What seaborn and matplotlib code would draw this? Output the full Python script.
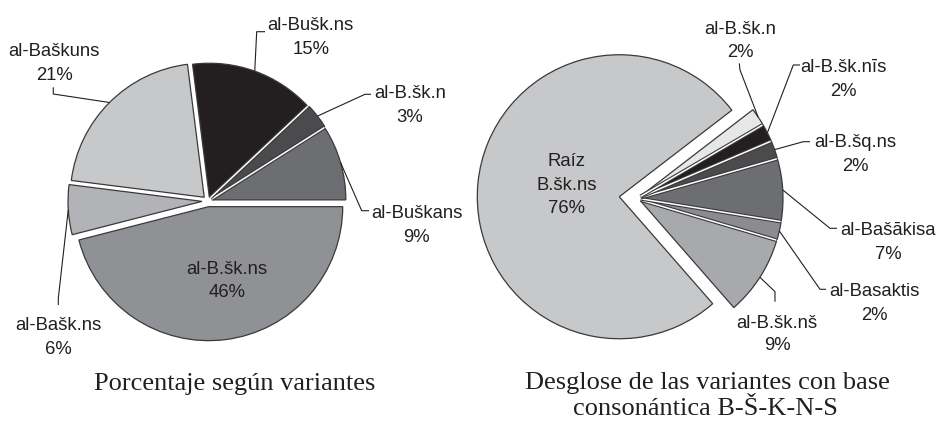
import numpy as np
import matplotlib
matplotlib.use("Agg")
import matplotlib.pyplot as plt
import matplotlib.patheffects as pe
import seaborn as sns

# ---------------- data ----------------
left_labels = ["al-Buškans", "al-B.šk.n", "al-Bušk.ns", "al-Baškuns", "al-Bašk.ns", "al-B.šk.ns"]
left_values = [9, 3, 15, 21, 6, 46]
left_colors = ["#6d6e71", "#4b4b4d", "#231f20", "#c7c8ca", "#b1b3b6", "#8f9194"]

right_labels = ["al-B.šk.nš", "al-Basaktis", "al-Bašākisa", "al-B.šq.ns", "al-B.šk.nīs", "al-B.šk.n", "Raíz\nB.šk.ns"]
right_values = [9, 2, 7, 2, 2, 2, 76]
right_colors = ["#a7a9ac", "#8a8c8f", "#6d6e71", "#4b4b4d", "#231f20", "#e6e7e8", "#c7c8ca"]

left_title = "Porcentaje según variantes"
right_title = ["Desglose de las variantes con base", "consonántica B-Š-K-N-S"]

# ---------------- style ----------------
sns.set_theme(style="white")
plt.rcParams["font.family"] = ["Liberation Sans", "DejaVu Sans"]
TXT = "#231f20"
EDGE = "#3a3a3a"

W, H = 938, 424
fig = plt.figure(figsize=(W / 100, H / 100), dpi=100)
fig.patch.set_facecolor("white")
ax = fig.add_axes([0, 0, 1, 1])


def Y(y):
    return H - y


wp = dict(edgecolor=EDGE, linewidth=0.9)
wl, _ = ax.pie(left_values, colors=left_colors, startangle=0, counterclock=True,
               explode=[4.0, 4.5, 4.0, 5.3, 6.0, 5.7],
               center=(208, Y(201)), radius=134, wedgeprops=wp)
wr, _ = ax.pie(right_values, colors=right_colors, startangle=-48.85, counterclock=True,
               explode=[4, 4, 4, 4, 4, 4, 17.8],
               center=(637, Y(198.5)), radius=142, wedgeprops=wp)

ax.set_xlim(0, W)
ax.set_ylim(0, H)
ax.set_aspect("auto")
ax.axis("off")


def separator(wa, wb):
    """White line with dark borders along the shared edge of two adjacent wedges."""
    t = np.deg2rad(wa.theta2)
    cx = 0.5 * (wa.center[0] + wb.center[0])
    cy = 0.5 * (wa.center[1] + wb.center[1])
    r = wa.r - 0.6
    ax.plot([cx, cx + r * np.cos(t)], [cy, cy + r * np.sin(t)], color="white",
            lw=1.1, solid_capstyle="butt", zorder=3,
            path_effects=[pe.Stroke(linewidth=2.7, foreground=EDGE, capstyle="butt"), pe.Normal()])


separator(wl[0], wl[1])
separator(wl[1], wl[2])
for i in range(5):
    separator(wr[i], wr[i + 1])


def anchor(w):
    m = np.deg2rad(0.5 * (w.theta1 + w.theta2))
    cx, cy = w.center
    return cx + w.r * np.cos(m), cy + w.r * np.sin(m)


def label(wedge, text, x, baselines, elbow=None, end=None, size=13.3):
    lines = text.split("\n")
    for ln, b in zip(lines, baselines):
        ax.text(x, Y(b), ln, ha="center", va="baseline", fontsize=size,
                color=TXT, family=["Liberation Sans", "DejaVu Sans"], zorder=5)
    if elbow is not None:
        ax0, ay0 = anchor(wedge)
        xs = [ax0, elbow[0], end[0]]
        ys = [ay0, Y(elbow[1]), Y(end[1])]
        ax.plot(xs, ys, color=TXT, lw=0.8, solid_capstyle="butt", zorder=4)


# left pie labels
label(wl[0], left_labels[0] + "\n" + f"{left_values[0]}%", 416.7, [217.5, 241.5], (361.7, 210.7), (369, 210.7))
label(wl[1], left_labels[1] + "\n" + f"{left_values[1]}%", 410, [98.5, 121.5], (365, 94.3), (371, 94.3))
label(wl[2], left_labels[2] + "\n" + f"{left_values[2]}%", 310.8, [30.5, 53.5], (256.7, 31.7), (265, 31.7))
label(wl[3], left_labels[3] + "\n" + f"{left_values[3]}%", 54.2, [55.5, 79.5], (53.3, 94), (53.3, 87.3))
label(wl[4], left_labels[4] + "\n" + f"{left_values[4]}%", 58.3, [329.7, 353.7], (58.3, 298.3), (58.3, 305))
label(wl[5], left_labels[5] + "\n" + f"{left_values[5]}%", 226.7, [273.7, 297])

# right pie labels
label(wr[0], right_labels[0] + "\n" + f"{right_values[0]}%", 777.3, [327.7, 350.3], (775, 291.7), (775, 301.7))
label(wr[1], right_labels[1] + "\n" + f"{right_values[1]}%", 874, [296.3, 320.3], (820, 289.3), (826, 289.3))
label(wr[2], right_labels[2] + "\n" + f"{right_values[2]}%", 888.3, [235.3, 259.3], (830, 228.3), (837, 228.3))
label(wr[3], right_labels[3] + "\n" + f"{right_values[3]}%", 855, [147, 171], (803.3, 141.7), (810, 141.7))
label(wr[4], right_labels[4] + "\n" + f"{right_values[4]}%", 843.3, [72, 96.3], (793.3, 65), (800, 65))
label(wr[5], right_labels[5] + "\n" + f"{right_values[5]}%", 740, [33.7, 57], (740, 70), (739.3, 63.3))
label(wr[6], right_labels[6] + "\n" + f"{right_values[6]}%", 566.7, [166.3, 189.7, 213])

# titles
serif = ["Liberation Serif", "DejaVu Serif"]
ax.text(235, Y(390), left_title, ha="center", va="baseline", fontsize=19,
        color=TXT, family=serif)
ax.text(707.5, Y(389), right_title[0], ha="center", va="baseline", fontsize=19,
        color=TXT, family=serif)
ax.text(705.8, Y(415), right_title[1], ha="center", va="baseline", fontsize=19,
        color=TXT, family=serif)

fig.savefig("out.png", dpi=100, facecolor="white")
